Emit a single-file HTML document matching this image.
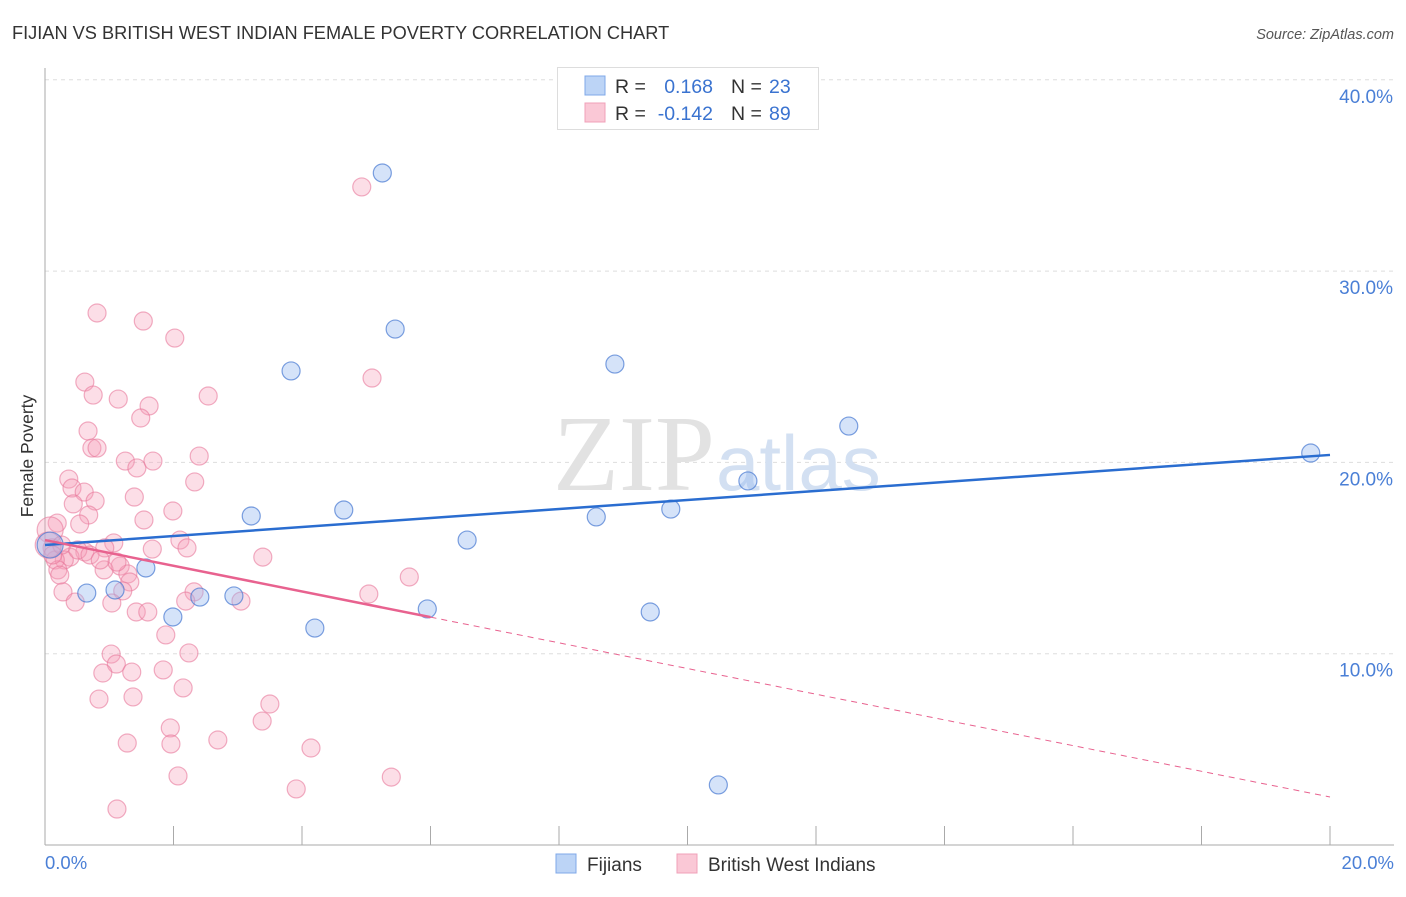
<!DOCTYPE html>
<html><head><meta charset="utf-8"><style>
body{margin:0;background:#fff;font-family:"Liberation Sans",sans-serif;}
</style></head><body>
<svg width="1406" height="892" xmlns="http://www.w3.org/2000/svg">
<text x="12" y="39" font-size="18.2" fill="#333">FIJIAN VS BRITISH WEST INDIAN FEMALE POVERTY CORRELATION CHART</text>
<text x="1394" y="39" font-size="14.5" fill="#555" font-style="italic" text-anchor="end">Source: ZipAtlas.com</text>
<g id="grid"></g>
<text x="715" y="490" font-size="108" fill="#e2e2e2" font-family="Liberation Serif,serif" text-anchor="end">ZIP</text>
<text x="716" y="490" font-size="78" fill="#d3e0f2" text-anchor="start">atlas</text>
<line x1="45" y1="68" x2="45" y2="845" stroke="#aaa"/>
<line x1="45" y1="845" x2="1394" y2="845" stroke="#aaa"/>
<g id="ticks"></g>
<g id="ylabels"></g>
<text x="45" y="869" font-size="18.5" fill="#4a7fd6">0.0%</text>
<text x="1394" y="869" font-size="18.5" fill="#4a7fd6" text-anchor="end">20.0%</text>
<text transform="translate(33,456) rotate(-90)" font-size="17.5" fill="#333" text-anchor="middle">Female Poverty</text>
<g id="pink"></g>
<g id="blue"></g>
<g id="trends"></g>
<g>
<rect x="557.5" y="67.5" width="261" height="62" fill="#fff" stroke="#ddd"/>
<rect x="585" y="76" width="20" height="19" fill="#bcd4f6" stroke="#7fa8e8"/>
<rect x="585" y="103" width="20" height="19" fill="#fac8d6" stroke="#f0a0b8"/>
<text x="615" y="93" font-size="19.5" fill="#333">R =</text>
<text x="713" y="93" font-size="19.5" fill="#3a73d0" text-anchor="end">0.168</text>
<text x="731" y="93" font-size="19.5" fill="#333">N =</text>
<text x="769" y="93" font-size="19.5" fill="#3a73d0">23</text>
<text x="615" y="120" font-size="19.5" fill="#333">R =</text>
<text x="713" y="120" font-size="19.5" fill="#3a73d0" text-anchor="end">-0.142</text>
<text x="731" y="120" font-size="19.5" fill="#333">N =</text>
<text x="769" y="120" font-size="19.5" fill="#3a73d0">89</text>
</g>
<g>
<rect x="556" y="854" width="20" height="19" fill="#bcd4f6" stroke="#7fa8e8"/>
<text x="587" y="871" font-size="19" fill="#333">Fijians</text>
<rect x="677" y="854" width="20" height="19" fill="#fac8d6" stroke="#f0a0b8"/>
<text x="708" y="871" font-size="19" fill="#333">British West Indians</text>
</g>
</svg>
<script>
const yTicks=[10,20,30,40];
const yTickLabels=["10.0%","20.0%","30.0%","40.0%"];
const xTickValues=[0,2,4,6,8,10,12,14,16,18,20];
const blueX=[5.25,5.45,3.83,8.87,12.51,19.70,10.94,9.74,8.58,4.65,3.21,6.57,1.57,0.65,1.09,1.99,2.41,2.94,4.20,5.95,9.42,10.48,0.08];
const blueY=[35.13,26.97,24.78,25.14,21.90,20.49,19.03,17.56,17.15,17.51,17.20,15.94,14.48,13.17,13.33,11.92,12.96,13.02,11.34,12.34,12.18,3.14,15.68];
const pinkX=[0.81,1.53,2.02,4.93,5.09,0.62,0.75,1.14,1.62,2.54,1.49,0.67,0.73,0.81,2.40,1.25,1.43,1.68,0.37,0.42,0.61,2.33,1.39,0.78,0.44,0.68,1.54,1.99,0.54,0.19,2.10,1.67,2.21,1.07,3.39,0.93,0.62,0.39,0.30,1.17,0.92,1.29,1.12,1.32,1.21,2.32,0.28,0.47,1.04,2.19,3.05,5.04,5.67,1.42,1.60,1.88,1.03,2.24,1.11,0.90,1.35,1.84,2.15,0.84,1.37,3.50,1.95,3.38,1.28,1.96,2.69,4.14,2.07,5.39,3.91,1.12,0.08,0.11,0.16,0.20,0.05,0.26,0.51,0.70,0.86,0.23,0.12];
const pinkY=[27.81,27.39,26.50,34.40,24.41,24.20,23.52,23.31,22.95,23.47,22.32,21.64,20.75,20.75,20.33,20.07,19.71,20.07,19.13,18.66,18.45,18.98,18.19,17.98,17.83,17.25,16.99,17.46,16.78,16.83,15.94,15.47,15.53,15.79,15.05,15.53,15.32,15.05,14.90,14.58,14.38,14.17,14.79,13.75,13.28,13.23,13.23,12.70,12.65,12.75,12.75,13.12,14.01,12.18,12.18,10.98,9.98,10.04,9.46,8.99,9.04,9.15,8.21,7.63,7.74,7.37,6.12,6.48,5.33,5.28,5.49,5.07,3.61,3.55,2.93,1.88,16.47,15.53,14.90,14.38,15.68,15.68,15.42,15.16,14.90,14.11,15.16];
const blueTrend=[15.68,20.39];
const pinkTrend=[15.94,2.51];
const pinkSolidEnd=6.0;
const NS="http://www.w3.org/2000/svg";
const X=v=>45+v/20*1285;
const Y=v=>845-v/10*191.3;
function mk(t,a,p){const e=document.createElementNS(NS,t);for(const k in a)e.setAttribute(k,a[k]);p.appendChild(e);return e;}
const grid=document.getElementById('grid');
yTicks.forEach((t,i)=>{
 const l=mk('line',{x1:45,x2:1394,y1:Y(t),y2:Y(t),stroke:'#ddd','stroke-dasharray':'4,4'},grid);
 
 
 const tx=mk('text',{x:1393,y:Y(t)+23,'font-size':19,fill:'#4a7fd6','text-anchor':'end'},document.getElementById('ylabels'));
 tx.textContent=yTickLabels[i];
 
 
});
xTickValues.forEach(v=>{
 const l=mk('line',{x1:X(v),x2:X(v),y1:826,y2:845,stroke:'#aaa'},document.getElementById('ticks'));
 
 
});
const pg=document.getElementById('pink');
pinkX.forEach((v,i)=>{
 const big=(v<0.1&&i>=76);
 const c=mk('circle',{cx:X(v),cy:Y(pinkY[i]),r:big?13:9,fill:'rgba(246,160,186,0.35)',stroke:'rgba(232,120,155,0.6)','stroke-width':1.2},pg);
 
 
});
const bg=document.getElementById('blue');
blueX.forEach((v,i)=>{
 const c=mk('circle',{cx:X(v),cy:Y(blueY[i]),r:i==22?13:9,fill:'rgba(150,185,240,0.4)',stroke:'rgba(70,120,210,0.7)','stroke-width':1.2},bg);
 
 
});
const tg=document.getElementById('trends');
const bl=mk('line',{x1:X(0),y1:Y(blueTrend[0]),x2:X(20),y2:Y(blueTrend[1]),stroke:'#2a6dd0','stroke-width':2.5},tg);


const pAt=x=>pinkTrend[0]+(pinkTrend[1]-pinkTrend[0])*x/20;
const ps=mk('line',{x1:X(0),y1:Y(pinkTrend[0]),x2:X(pinkSolidEnd),y2:Y(pAt(pinkSolidEnd)),stroke:'#e8628f','stroke-width':2.5},tg);


const pd=mk('line',{x1:X(pinkSolidEnd),y1:Y(pAt(pinkSolidEnd)),x2:X(20),y2:Y(pinkTrend[1]),stroke:'#e8628f','stroke-width':1,'stroke-dasharray':'6,5'},tg);


</script>
</body></html>
